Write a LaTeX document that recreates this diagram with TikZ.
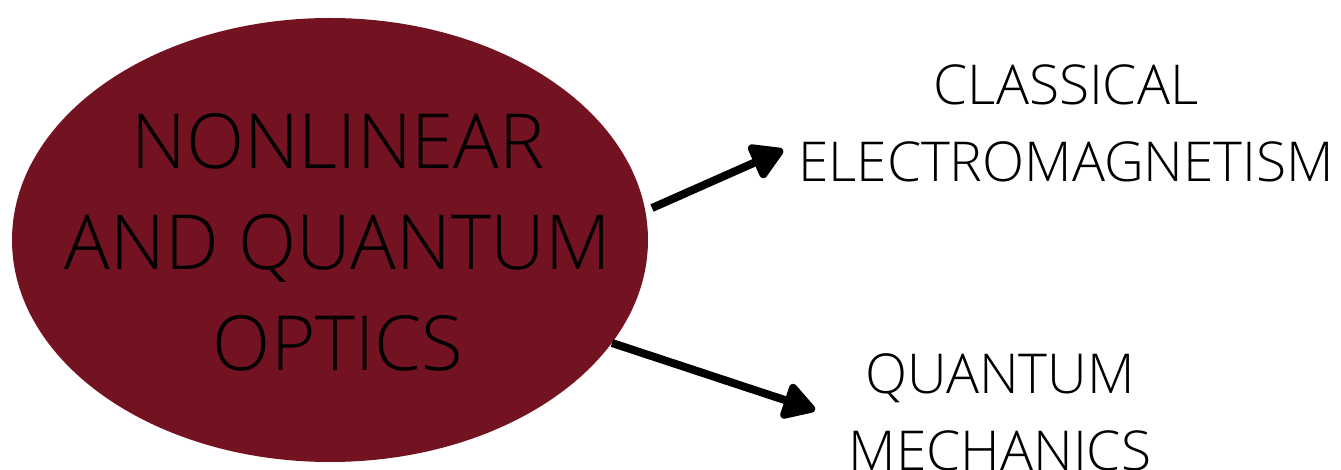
\documentclass[tikz,border=0pt]{standalone}
\usepackage{fontspec}
\setmainfont{Open Sans}[UprightFont=* Light]
\usetikzlibrary{arrows.meta,shapes.geometric}
\definecolor{wine}{HTML}{731220}
\tikzset{
  bubble/.style={ellipse, fill=wine, minimum width=636pt, minimum height=444pt, inner sep=0pt},
  maintext/.style={align=center, text=black, font=\fontsize{76}{101}\selectfont},
  topic/.style={align=center, text=black, font=\fontsize{55}{77}\selectfont},
  link/.style={line width=8pt, -{Triangle[round, length=36pt, width=40pt]}, line join=round}
}
\begin{document}
\begin{tikzpicture}[x=1pt,y=-1pt]
  \useasboundingbox (0,0) rectangle (1341,470);
  \node[bubble] (core) at (330,240) {};
  \node[maintext] (coretext) at (338,242) {NONLINEAR\\AND QUANTUM\\OPTICS};
  \node[topic] (cem) at (1066,123) {CLASSICAL\\ELECTROMAGNETISM};
  \node[topic] (qm) at (1000,412) {QUANTUM\\MECHANICS};
  \coordinate (s1) at (652,208);
  \coordinate (e1) at (783,150);
  \coordinate (s2) at (612,343);
  \coordinate (e2) at (815,410);
  \draw[link] (s1) -- (e1);
  \draw[link] (s2) -- (e2);
\end{tikzpicture}
\end{document}
